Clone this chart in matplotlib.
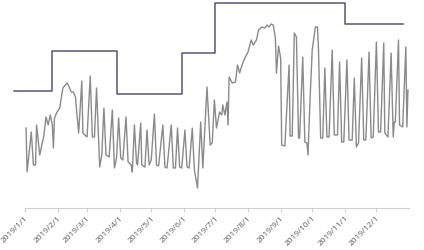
import matplotlib
matplotlib.use('Agg')
import matplotlib.pyplot as plt
import matplotlib.dates as mdates
import pandas as pd

# Daily series (day offset from 2019-01-01, value)
days = [1, 2, 6, 8, 10, 11, 14, 18, 20, 22, 24, 26, 27, 28, 30, 33, 35, 36, 40, 42,
        44, 46, 48, 49, 51, 54, 55, 59, 62, 64, 66, 68, 71, 73, 75, 77, 80, 83, 85, 87,
        89, 91, 93, 96, 98, 101, 102, 104, 106, 107, 110, 111, 114, 116, 118, 120, 123, 125, 127, 131,
        133, 135, 139, 141, 143, 145, 147, 149, 152, 154, 156, 159, 161, 164, 167, 169, 173, 176, 178, 180,
        182, 185, 187, 188, 190, 192, 193, 194, 197, 200, 202, 204, 207, 209, 212, 215, 217, 220, 222, 225,
        228, 230, 232, 234, 236, 238, 239, 241, 243, 244, 247, 251, 252, 254, 256, 258, 260, 261, 264, 266,
        268, 269, 271, 273, 276, 278, 279, 281, 283, 285, 287, 289, 292, 294, 297, 299, 301, 303, 306, 308,
        311, 313, 315, 317, 320, 322, 324, 327, 329, 331, 334, 336, 338, 341, 342, 345, 348, 350, 351, 352,
        355, 356, 359, 362, 363, 364]
values = [80, 36, 76, 43, 43, 83, 53, 73, 91, 83, 93, 83, 60, 90, 95, 100, 113, 120, 125, 121,
          116, 116, 111, 98, 75, 127, 75, 71, 132, 71, 71, 120, 41, 53, 100, 53, 51, 98, 40, 50,
          90, 50, 48, 91, 46, 43, 36, 83, 45, 43, 85, 43, 41, 78, 43, 48, 94, 43, 42, 83,
          41, 40, 83, 40, 40, 80, 41, 40, 78, 41, 40, 80, 38, 20, 86, 40, 121, 63, 65, 108,
          80, 96, 93, 103, 93, 106, 83, 131, 125, 126, 143, 135, 145, 150, 156, 168, 163, 168, 178, 181,
          180, 183, 181, 184, 183, 170, 135, 162, 150, 63, 62, 143, 72, 72, 175, 171, 70, 70, 151, 66,
          65, 53, 110, 158, 181, 181, 158, 70, 70, 140, 71, 71, 158, 73, 73, 146, 66, 66, 148, 68,
          68, 130, 61, 65, 150, 68, 68, 156, 70, 71, 166, 76, 76, 165, 75, 71, 155, 71, 86, 86,
          168, 83, 81, 161, 81, 118]

# Step series: edges and levels
step_edges = ['2018-12-22', '2019-01-27', '2019-03-29', '2019-05-30',
              '2019-07-01', '2019-11-01', '2019-12-26']
step_levels = [117, 157, 114, 155, 205, 184]

month_labels = ['2019/1/1', '2019/2/1', '2019/3/1', '2019/4/1', '2019/5/1', '2019/6/1',
                '2019/7/1', '2019/8/1', '2019/9/1', '2019/10/1', '2019/11/1', '2019/12/1']

base = pd.Timestamp('2019-01-01')
dates = [base + pd.Timedelta(days=d) for d in days]
edges = pd.to_datetime(step_edges)

fig = plt.figure(figsize=(4.24, 2.5), dpi=100)
ax = fig.add_axes([0, 0.168, 1, 0.832])

ax.plot(dates, values, color='#8a8a8a', lw=1.0)
ax.step(edges, step_levels + [step_levels[-1]], where='post', color='#5b4f7c', lw=1.1)

ax.set_xlim(base - pd.Timedelta(days=23.76), base + pd.Timedelta(days=379.25))
ax.set_ylim(0, 208)

ticks = pd.date_range('2019-01-01', periods=12, freq='MS')
ax.set_xticks(ticks)
ax.set_xticklabels(month_labels, rotation=45, ha='right', va='top',
                   rotation_mode='anchor', fontsize=6.0, color='#595959',
                   family='Open Sans')
ax.tick_params(axis='x', length=3, color='#d0d0d0', pad=2)
ax.set_yticks([])

for s in ['top', 'left', 'right']:
    ax.spines[s].set_visible(False)
ax.spines['bottom'].set_color('#d0d0d0')
ax.spines['bottom'].set_linewidth(0.8)
ax.spines['bottom'].set_bounds(mdates.date2num(base), mdates.date2num(pd.Timestamp('2020-01-01')))

fig.savefig('out.png', dpi=100)
